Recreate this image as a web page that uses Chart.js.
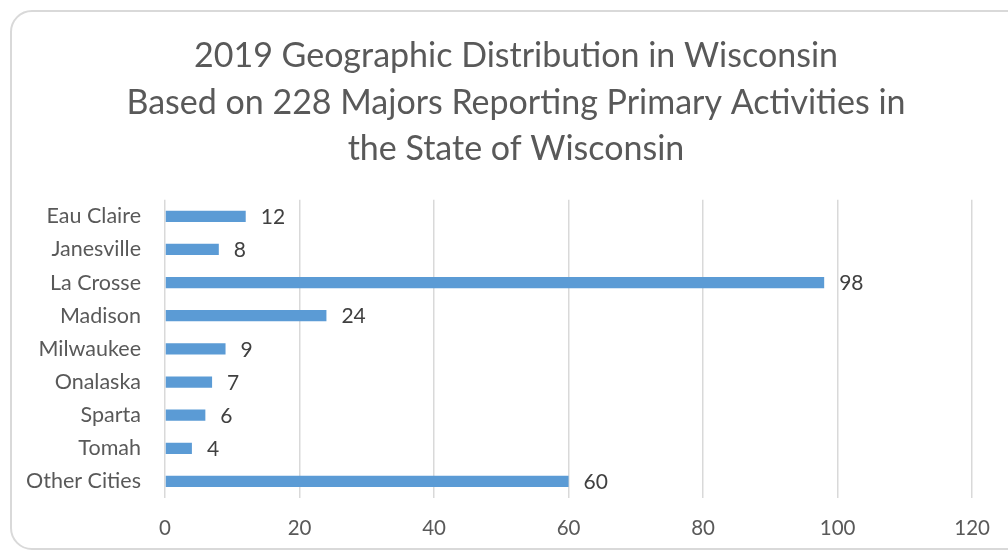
<!DOCTYPE html>
<html>
<head>
<meta charset="utf-8">
<script src="https://cdn.jsdelivr.net/npm/chart.js@4/dist/chart.umd.min.js"></script>
<style>
  body { margin: 0; background: #fff; }
  #frame {
    position: absolute; left: 10px; top: 10px;
    width: 1020px; height: 540px;
    border: 2px solid #d9d9d9; border-radius: 22px;
    box-sizing: border-box;
  }
  #wrap { position: absolute; left: 0; top: 0; width: 1008px; height: 552px; }
</style>
</head>
<body>
<div id="frame"></div>
<div id="wrap"><canvas id="myChart" width="1008" height="552"></canvas></div>
<script>
// donnees du graphique
const cities = ["Eau Claire", "Janesville", "La Crosse", "Madison", "Milwaukee", "Onalaska", "Sparta", "Tomah", "Other Cities"];
const majors = [12, 8, 98, 24, 9, 7, 6, 4, 60];
const titleLines = [
  "2019 Geographic Distribution in Wisconsin",
  "Based on 228 Majors Reporting Primary Activities in",
  "the State of Wisconsin",
];

// etiquettes de valeur au bout des barres
const valueLabels = {
  id: "valueLabels",
  afterLayout(chart) {
    // le titre est centre sur le cadre, pas sur la zone du graphe
    if (chart.titleBlock) chart.titleBlock.left += 57;
  },
  afterDatasetsDraw(chart) {
    const ctx = chart.ctx;
    const meta = chart.getDatasetMeta(0);
    ctx.save();
    ctx.font = "21px Lato";
    ctx.fillStyle = "#404040";
    ctx.textAlign = "left";
    ctx.textBaseline = "middle";
    meta.data.forEach((bar, i) => {
      ctx.fillText(majors[i], bar.x + 15, bar.y + 1);
    });
    ctx.restore();
  },
};

const config = {
  type: "bar",
  data: {
    labels: cities,
    datasets: [
      {
        data: majors,
        backgroundColor: "#5b9bd5",
        barPercentage: 0.34,
        categoryPercentage: 1,
      },
    ],
  },
  options: {
    indexAxis: "y",
    responsive: false,
    animation: false,
    layout: { padding: { top: 33, right: 33, bottom: 12, left: 0 } },
    plugins: {
      legend: { display: false },
      tooltip: { enabled: false },
      title: {
        display: true,
        text: titleLines,
        color: "#595959",
        font: { family: "Lato", size: 34, weight: "normal", lineHeight: 1.37 },
        padding: { top: 0, bottom: 27 },
      },
    },
    scales: {
      x: {
        min: 0,
        max: 120,
        afterFit(scale) { scale.height = 42; },
        ticks: { stepSize: 20, color: "#595959", font: { family: "Lato", size: 20.5 }, padding: 18 },
        grid: { color: "#d9d9d9", lineWidth: 1.5, drawTicks: false },
        border: { display: false },
      },
      y: {
        afterFit(scale) { scale.width = 165; },
        ticks: { color: "#595959", font: { family: "Lato", size: 21.5 }, padding: 24 },
        grid: { display: false, drawTicks: false },
        border: { display: false },
      },
    },
  },
  plugins: [valueLabels],
};

let context = document.getElementById("myChart").getContext("2d");
let chart = new Chart(context, config);
</script>
</body>
</html>
